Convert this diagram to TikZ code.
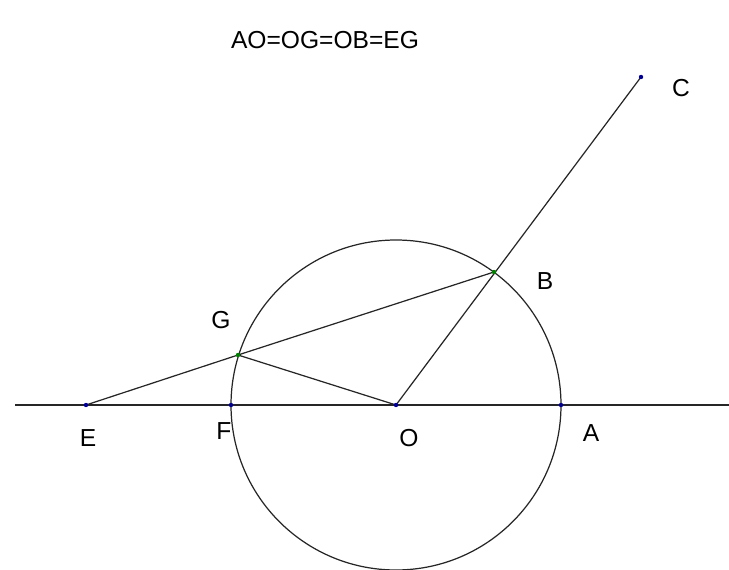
\documentclass[tikz,border=0pt]{standalone}
\usepackage{fontspec}
\setmainfont{Liberation Sans}
\usetikzlibrary{positioning,calc}

\begin{document}
\begin{tikzpicture}[
        x=0.02cm, y=-0.02cm,
        seg/.style={line width=0.7pt, black!85},
        pt/.style={circle, inner sep=0pt, minimum size=2.5pt},
        ptblue/.style={pt, fill=blue!60!black},
        ptgreen/.style={pt, fill=green!50!black},
        lbl/.style={font=\fontsize{14}{16}\selectfont, inner sep=0pt},
    ]
        \useasboundingbox (0,0) rectangle (729,570);

        % Points
        \coordinate (O) at (396,405);
        \coordinate (A) at (561,405);
        \coordinate (F) at (231,405);
        \coordinate (E) at (86,405);
        \coordinate (G) at (238,355);
        \coordinate (B) at (494,272);
        \coordinate (C) at (641,77);
        \coordinate (Lend) at (15,405);
        \coordinate (Rend) at (729,405);

        % Circle and lines
        \draw[seg] (O) circle [radius=165];
        \draw[seg] (Lend) -- (Rend);
        \draw[seg] (E) -- (G) -- (B);
        \draw[seg] (G) -- (O);
        \draw[seg] (O) -- (C);

        % Point marks
        \foreach \p in {E,F,O,A,C} \node[ptblue] at (\p) {};
        \foreach \p in {G,B} \node[ptgreen] at (\p) {};

        % Labels
        \node[lbl] (labC) at (681,88) {C};
        \node[lbl] (labB) at (545,281) {B};
        \node[lbl] (labG) at (221,320) {G};
        \node[lbl] (labE) at (88,438) {E};
        \node[lbl] (labF) at (224,431) {F};
        \node[lbl] (labO) at (409,438) {O};
        \node[lbl] (labA) at (591,433) {A};
        \node[lbl] (title) at (325,40) {AO=OG=OB=EG};
    \end{tikzpicture}
\end{document}
